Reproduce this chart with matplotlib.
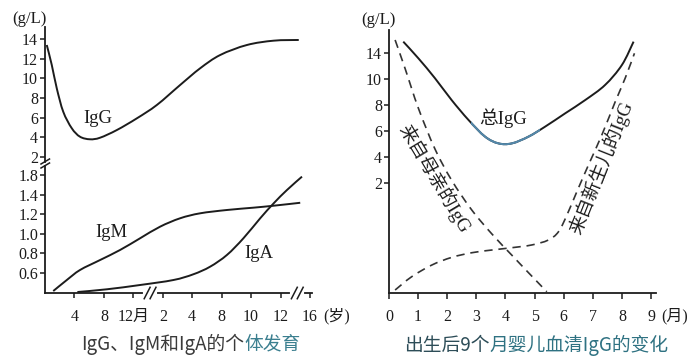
import matplotlib
matplotlib.use('Agg')
import matplotlib.pyplot as plt
import numpy as np
from matplotlib.path import Path
from matplotlib.patches import PathPatch
from matplotlib.lines import Line2D

plt.rcParams['font.family'] = ['Liberation Serif', 'Noto Sans CJK SC']
plt.rcParams['axes.unicode_minus'] = False

# ---------------- Left chart data ----------------
# x positions follow the (non-uniform) axis ticks:
# 0 = birth, 1 = 4月, 2 = 8月, 3 = 12月, 4 = 2岁, 5 = 4岁, 6 = 8岁, 7 = 10岁, 8 = 12岁, 9 = 16岁
left_tick_pos = [1, 2, 3, 4, 5, 6, 7, 8, 9]
left_tick_labels = ['4', '8', '12月', '2', '4', '8', '10', '12', '16']
upper_ytick_vals = [2, 4, 6, 8, 10, 12, 14]
lower_ytick_vals = [0.6, 0.8, 1.0, 1.2, 1.4, 1.6]
lower_ytick_labels = ['0.6', '0.8', '1.0', '1.2', '1.4', '1.8']

igg_x = [0.06, 0.23, 0.40, 0.62, 0.91, 1.19, 1.53, 1.87, 2.44, 3.12, 3.80, 4.59,
         5.27, 5.95, 6.86, 7.77, 8.62]
igg_y = [13.39, 11.36, 8.98, 6.6, 4.92, 4.06, 3.8, 3.96, 4.74, 5.93, 7.29, 9.32,
         11.02, 12.37, 13.39, 13.83, 13.9]
igm_x = [0.28, 0.74, 1.19, 1.87, 2.55, 3.23, 3.91, 4.59, 5.27, 6.18, 7.09, 7.77, 8.67]
igm_y = [0.415, 0.528, 0.631, 0.733, 0.836, 0.956, 1.075, 1.161, 1.212, 1.246,
         1.27, 1.29, 1.32]
iga_x = [1.10, 2.10, 3.23, 4.36, 5.04, 5.61, 6.18, 6.74, 7.31, 7.77, 8.22, 8.73]
iga_y = [0.405, 0.433, 0.477, 0.528, 0.587, 0.665, 0.785, 0.956, 1.161, 1.315,
         1.451, 1.588]

# ---------------- Right chart data ----------------
months = [0, 1, 2, 3, 4, 5, 6, 7, 8, 9]
right_ytick_vals = [2, 4, 6, 8, 10, 12]
right_ytick_labels = ['2', '4', '6', '8', '10', '14']

total_x = [0.49, 1.01, 1.58, 2.15, 2.73, 3.30, 3.76, 4.22, 4.79, 5.36, 6.05, 6.74,
           7.42, 8.0, 8.40]
total_y = [12.9, 11.61, 10.07, 8.39, 6.85, 5.56, 5.04, 5.04, 5.56, 6.33, 7.36, 8.39,
           9.55, 11.1, 12.9]
mother_x = [0.21, 0.55, 1.01, 1.58, 2.15, 2.84, 3.53, 4.22, 4.79, 5.42]
mother_y = [13.03, 10.84, 7.75, 4.6, 2.2, -0.1, -1.95, -3.6, -4.95, -6.42]
newborn_x = [0.21, 0.78, 1.47, 2.15, 2.84, 3.53, 4.22, 4.90, 5.47, 5.82, 6.11, 6.45,
             6.85, 7.31, 7.77, 8.11, 8.43]
newborn_y = [-6.29, -5.26, -4.36, -3.77, -3.41, -3.2, -3.02, -2.81, -2.43, -1.79,
             -0.5, 1.3, 3.37, 5.69, 8.26, 10.07, 12.0]

W, H = 698, 357
fig = plt.figure(figsize=(W / 100, H / 100), dpi=100)


def fx(px):
    return px / W


def fy(py):
    return 1 - py / H


def smooth_path(x, y):
    P = np.column_stack([x, y]).astype(float)
    n = len(P)
    verts = [P[0]]
    codes = [Path.MOVETO]
    for i in range(n - 1):
        p0 = P[i - 1] if i > 0 else P[i]
        p1 = P[i]
        p2 = P[i + 1]
        p3 = P[i + 2] if i + 2 < n else P[i + 1]
        verts += [p1 + (p2 - p0) / 6, p2 - (p3 - p1) / 6, p2]
        codes += [Path.CURVE4] * 3
    return Path(verts, codes)


def draw_curve(ax, x, y, **kw):
    patch = PathPatch(smooth_path(x, y), fill=False, **kw)
    ax.add_patch(patch)
    return patch


INK = '#1c1c1c'
TICKFS = 11.5

# ---------- left upper axes ----------
axU = fig.add_axes([fx(45), fy(162), fx(312) - fx(45), (162 - 27) / H])
axU.set_xlim(0, 9.07)
axU.set_ylim(1.49, 15.22)
for s in ['top', 'right', 'bottom']:
    axU.spines[s].set_visible(False)
axU.spines['left'].set_linewidth(1.3)
axU.spines['left'].set_color(INK)
axU.set_xticks([])
axU.set_yticks(upper_ytick_vals)
axU.set_yticklabels([str(v) for v in upper_ytick_vals])
axU.tick_params(axis='y', direction='out', length=3.5, width=1.1, pad=1.5,
                labelsize=TICKFS, colors=INK)
axU.patch.set_alpha(0)
draw_curve(axU, igg_x, igg_y, lw=1.4, edgecolor=INK)
axU.text(1.78, 5.93, 'IgG', fontsize=13.5, ha='center', va='center', color=INK)

# ---------- left lower axes ----------
axL = fig.add_axes([fx(45), fy(293), fx(312) - fx(45), (293 - 166) / H])
axL.set_xlim(0, 9.07)
axL.set_ylim(0.395, 1.697)
for s in ['top', 'right']:
    axL.spines[s].set_visible(False)
for s in ['left', 'bottom']:
    axL.spines[s].set_linewidth(1.3)
    axL.spines[s].set_color(INK)
axL.set_yticks(lower_ytick_vals)
axL.set_yticklabels(lower_ytick_labels)
axL.set_xticks(left_tick_pos)
axL.set_xticklabels(left_tick_labels)
axL.tick_params(axis='y', direction='out', length=3.5, width=1.1, pad=1.5,
                labelsize=TICKFS, colors=INK)
axL.tick_params(axis='x', direction='out', length=3.5, width=1.1, pad=8,
                labelsize=TICKFS, colors=INK)
axL.patch.set_alpha(0)
draw_curve(axL, igm_x, igm_y, lw=1.4, edgecolor=INK)
draw_curve(axL, iga_x, iga_y, lw=1.4, edgecolor=INK)
axL.text(2.27, 1.02, 'IgM', fontsize=13.5, ha='center', va='center', color=INK)
axL.text(7.26, 0.80, 'IgA', fontsize=13.5, ha='center', va='center', color=INK)

# x-axis breaks
bt = axL.get_xaxis_transform()
for xb in [3.57, 8.57]:
    axL.plot([xb - 0.17, xb + 0.17], [0, 0], color='white', lw=3, transform=bt,
             clip_on=False, zorder=6)
    for dx in [-0.1, 0.1]:
        axL.plot([xb + dx - 0.1, xb + dx + 0.1], [-0.045, 0.045], color=INK, lw=1.1,
                 transform=bt, clip_on=False, zorder=7)

# y-axis break (between the two panels)
for py in [161.5, 165.5]:
    fig.add_artist(Line2D([fx(41), fx(49.5)], [fy(py + 2.5), fy(py - 2.5)],
                          transform=fig.transFigure, color=INK, lw=1.1))

fig.text(fx(29), fy(19), '(g/L)', fontsize=12, ha='center', va='center', color=INK)
fig.text(fx(323), fy(316), '(岁)', fontsize=TICKFS, ha='left', va='center', color=INK)

# ---------- right axes ----------
axR = fig.add_axes([fx(389), fy(293), fx(656) - fx(389), (293 - 30) / H])
axR.set_xlim(0, 9.17)
axR.set_ylim(-6.52, 13.8)
for s in ['top', 'right']:
    axR.spines[s].set_visible(False)
for s in ['left', 'bottom']:
    axR.spines[s].set_linewidth(1.3)
    axR.spines[s].set_color(INK)
axR.set_xticks(months)
axR.set_xticklabels([str(m) for m in months])
axR.set_yticks(right_ytick_vals)
axR.set_yticklabels(right_ytick_labels)
axR.tick_params(axis='y', direction='out', length=3.5, width=1.1, pad=1.5,
                labelsize=TICKFS, colors=INK)
axR.tick_params(axis='x', direction='out', length=4.5, width=1.1, pad=7,
                labelsize=TICKFS, colors=INK)
axR.patch.set_alpha(0)

draw_curve(axR, total_x, total_y, lw=1.4, edgecolor=INK)
seg = draw_curve(axR, total_x, total_y, lw=1.5, edgecolor='#5388aa')
clip = plt.Rectangle((2.8, -10), 2.4, 30, transform=axR.transData)
seg.set_clip_path(clip)
draw_curve(axR, mother_x, mother_y, lw=1.2, edgecolor='#333333',
           linestyle=(0, (5, 3.5)))
draw_curve(axR, newborn_x, newborn_y, lw=1.2, edgecolor='#333333',
           linestyle=(0, (5, 3.5)))

axR.text(3.93, 7.0, '总IgG', fontsize=13.5, ha='center', va='center', color=INK)
axR.text(1.55, 2.36, '来自母亲的IgG', fontsize=13.5, ha='center', va='center',
         rotation=-59, rotation_mode='anchor', color=INK)
axR.text(7.28, 3.17, '来自新生儿的IgG', fontsize=13.5, ha='center', va='center',
         rotation=68.3, rotation_mode='anchor', color=INK)

fig.text(fx(378), fy(20), '(g/L)', fontsize=12, ha='center', va='center', color=INK)
fig.text(fx(661), fy(316), '(月)', fontsize=TICKFS, ha='left', va='center', color=INK)

# ---------- multi-coloured titles ----------
renderer = fig.canvas.get_renderer()


def colored_title(cx, cy, parts, fs=13.5):
    texts = []
    widths = []
    for s, c in parts:
        t = fig.text(0, fy(cy), s, fontsize=fs, color=c, ha='left', va='center',
                     family=['Noto Sans CJK SC', 'DejaVu Sans'])
        bb = t.get_window_extent(renderer=renderer)
        texts.append(t)
        widths.append(bb.width)
    total = sum(widths)
    x0 = cx - total / 2
    for t, w in zip(texts, widths):
        t.set_x(fx(x0))
        x0 += w


colored_title(191, 344, [('IgG、IgM和IgA的个', '#3a3a3a'), ('体发育', '#3b7f8f')])
colored_title(536, 345, [('出生后9个', '#2d4d58'), ('月婴儿血清IgG的变化', '#2f7282')])

fig.savefig('out.png', dpi=100)
